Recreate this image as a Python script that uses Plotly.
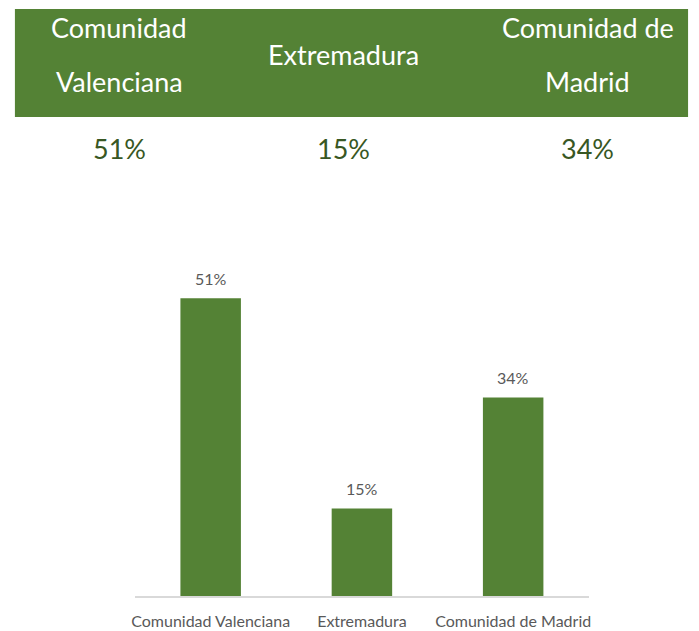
import plotly.graph_objects as go

# Regions and their share
regions = ["Comunidad Valenciana", "Extremadura", "Comunidad de Madrid"]
header_lines = [["Comunidad", "Valenciana"], ["Extremadura"], ["Comunidad de", "Madrid"]]
shares = [51, 15, 34]
share_labels = [f"{v}%" for v in shares]

W, H = 699, 631
GREEN = "#548235"
DARK_GREEN = "#385723"
GRAY = "#595959"
FONT = "Lato"


def px(x):
    return x / W


def py(y):
    return 1 - y / H


fig = go.Figure()

fig.add_trace(go.Bar(
    x=regions,
    y=shares,
    marker=dict(color=GREEN, line=dict(width=0)),
    hoverinfo="skip",
))

annotations = []
# value labels above each bar
for reg, val, lab in zip(regions, shares, share_labels):
    annotations.append(dict(
        x=reg, y=val, xref="x", yref="y",
        text=lab, showarrow=False, xanchor="center", yanchor="bottom",
        yshift=8, font=dict(family=FONT, size=16, color=GRAY),
    ))

# header table: column centres
col_x = [117, 343, 589]
for cx, lines, lab in zip(col_x, header_lines, share_labels):
    if len(lines) == 2:
        ys = [28, 82]
    else:
        ys = [55]
    for ly, txt in zip(ys, lines):
        annotations.append(dict(
            x=px(cx), y=py(ly), xref="paper", yref="paper",
            text=txt, showarrow=False, xanchor="center", yanchor="middle",
            font=dict(family=FONT, size=27, color="white"),
        ))
    annotations.append(dict(
        x=px(cx), y=py(148), xref="paper", yref="paper",
        text=lab, showarrow=False, xanchor="center", yanchor="middle",
        font=dict(family=FONT, size=27, color=DARK_GREEN),
    ))

fig.update_layout(
    width=W, height=H,
    margin=dict(l=0, r=0, t=0, b=0),
    paper_bgcolor="white", plot_bgcolor="white",
    showlegend=False,
    bargap=0.6,
    shapes=[dict(
        type="rect", xref="paper", yref="paper",
        x0=px(12), x1=px(690), y0=py(117), y1=py(9),
        fillcolor=GREEN, line=dict(width=0), layer="below",
    )],
    annotations=annotations,
    xaxis=dict(
        domain=[px(133), px(590)],
        showline=True, linecolor="#d9d9d9", linewidth=1.5,
        ticks="", showgrid=False,
        tickfont=dict(family=FONT, size=16, color=GRAY),
        ticklabelstandoff=10,
        anchor="y",
    ),
    yaxis=dict(
        domain=[py(596), py(231)],
        range=[0, 62.5],
        visible=False, showgrid=False, zeroline=False,
    ),
)

fig.write_html("out.html")
